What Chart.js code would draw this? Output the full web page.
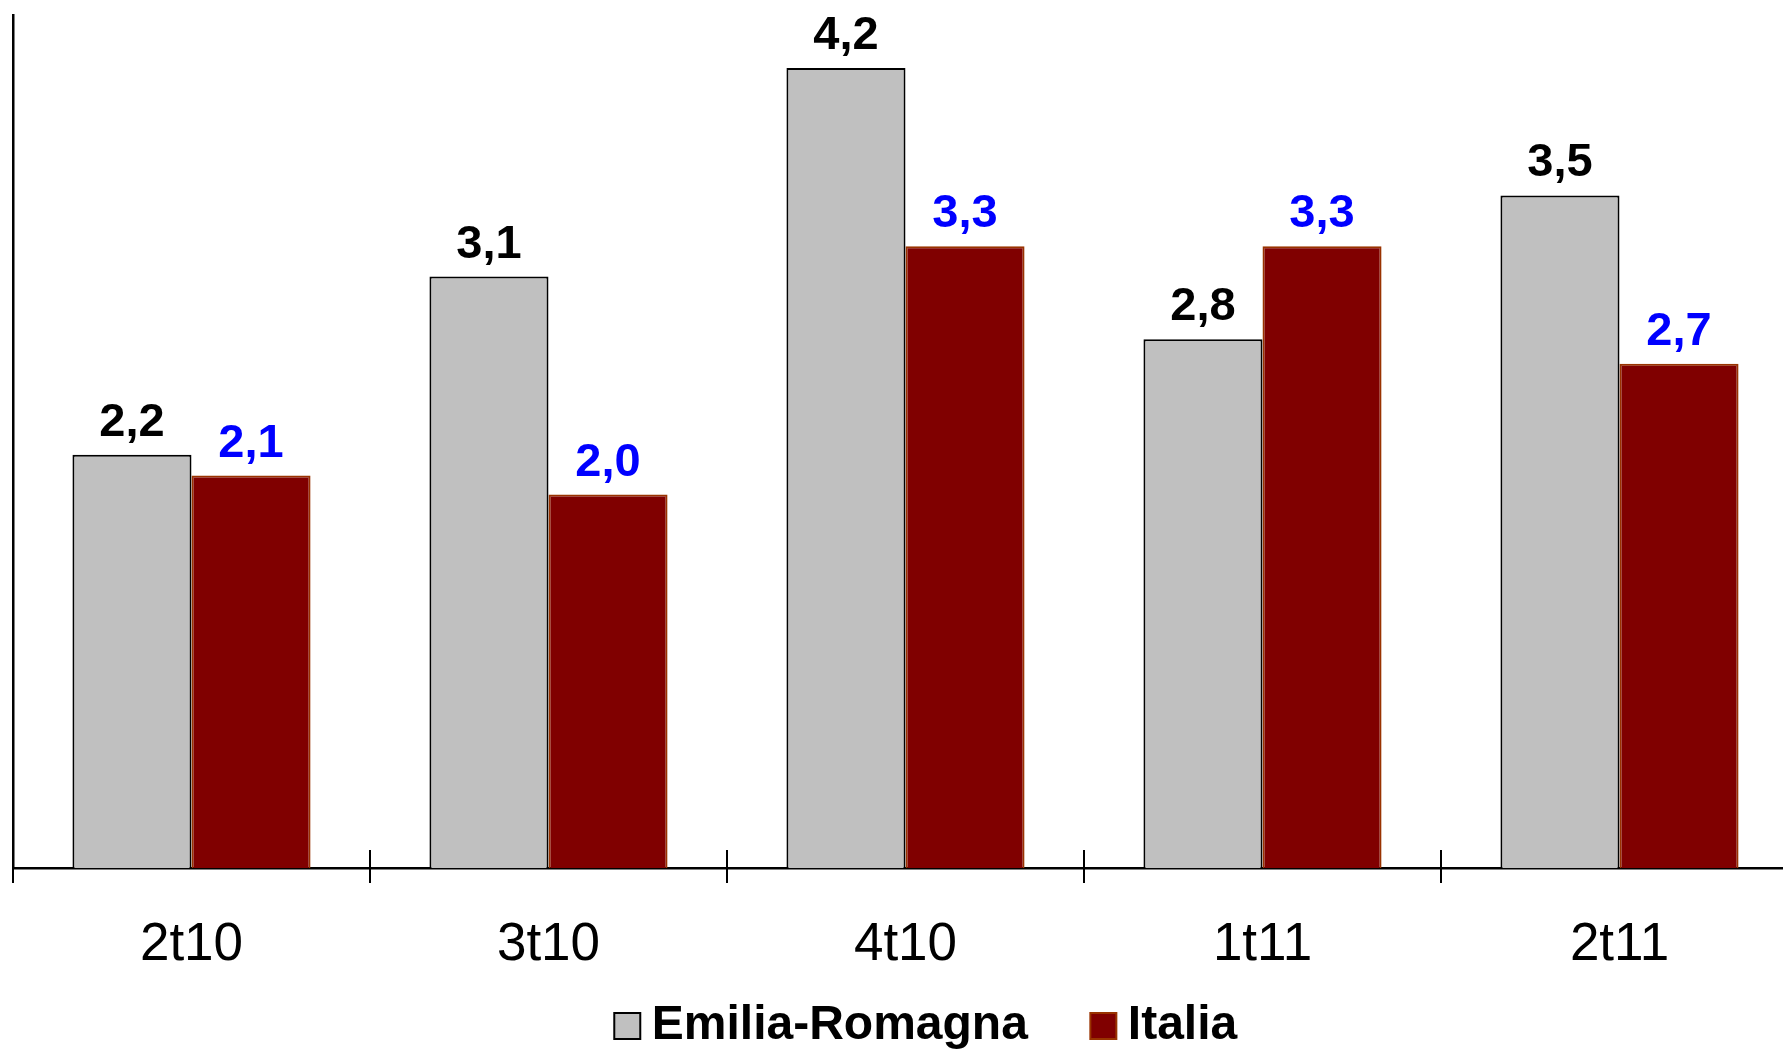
<!DOCTYPE html>
<html>
<head>
<meta charset="utf-8">
<title>Emilia-Romagna / Italia</title>
<script src="https://cdn.jsdelivr.net/npm/chart.js@4/dist/chart.umd.min.js"></script>
<style>
    html, body { margin: 0; padding: 0; background: #fff; overflow: hidden; }
    #wrap { position: relative; width: 1864px; height: 1060px; }
</style>
</head>
<body>
<div id="wrap"><canvas id="quarterChart"></canvas></div>
<script>
const quarters = ['2t10', '3t10', '4t10', '1t11', '2t11'];
const emiliaRomagna = [2.18, 3.12, 4.22, 2.79, 3.548];
const italia = [2.07, 1.97, 3.28, 3.28, 2.66];
const seriesNames = ['Emilia-Romagna', 'Italia'];
const labelColors = ['#000000', '#0000FF'];

Chart.defaults.font.family = '"Liberation Sans", Arial, sans-serif';
Chart.defaults.color = '#000';

function formatValue(v) {
    return v.toFixed(1).replace('.', ',');
}

// numbers above each bar
const valueLabels = {
    id: 'valueLabels',
    afterDatasetsDraw(chart) {
        const ctx = chart.ctx;
        ctx.save();
        ctx.font = 'bold 47px "Liberation Sans", Arial, sans-serif';
        ctx.textAlign = 'center';
        ctx.textBaseline = 'alphabetic';
        chart.data.datasets.forEach((ds, i) => {
            ctx.fillStyle = labelColors[i];
            chart.getDatasetMeta(i).data.forEach((bar, j) => {
                ctx.fillText(formatValue(ds.data[j]), bar.x, bar.y - 19);
            });
        });
        ctx.restore();
    }
};

const ctx = document.getElementById('quarterChart').getContext('2d');
const quarterChart = new Chart(ctx, {
    type: 'bar',
    data: {
        labels: quarters,
        datasets: [{
            label: seriesNames[0],
            data: emiliaRomagna,
            backgroundColor: '#C0C0C0',
            borderColor: '#000000',
            borderWidth: 2,
            categoryPercentage: 0.667,
            barPercentage: 1.0
        }, {
            label: seriesNames[1],
            data: italia,
            backgroundColor: '#800000',
            borderColor: '#993300',
            borderWidth: 2,
            categoryPercentage: 0.667,
            barPercentage: 1.0
        }]
    },
    options: {
        responsive: true,
        maintainAspectRatio: false,
        animation: false,
        layout: { padding: { top: 15, left: 0, right: 0, bottom: 0 } },
        scales: {
            // baseline + short ticks pointing up
            x: {
                position: 'bottom',
                weight: 0,
                grid: {
                    display: true,
                    offset: true,
                    drawOnChartArea: false,
                    drawTicks: true,
                    tickLength: -18,
                    color: '#000',
                    lineWidth: 2
                },
                border: { display: true, color: '#000', width: 2.5 },
                ticks: { display: false },
                afterFit: function(scale) { scale.height = 0; }
            },
            // ticks pointing down + quarter labels
            x2: {
                type: 'category',
                position: 'bottom',
                weight: 1,
                offset: true,
                grid: {
                    display: true,
                    offset: true,
                    drawOnChartArea: false,
                    drawTicks: true,
                    tickLength: 15,
                    color: '#000',
                    lineWidth: 2
                },
                border: { display: false },
                ticks: {
                    color: '#000',
                    mirror: true,   // no label clipping, legend sits right under
                    padding: -109.3,
                    maxRotation: 0,
                    font: { size: 53 }
                },
                afterFit: function(scale) { scale.height = 59; }
            },
            y: {
                min: 0,
                max: 4.5,
                position: 'left',
                grid: { display: false },
                border: { display: true, color: '#000', width: 2.5 },
                ticks: { display: false },
                afterFit: function(scale) { scale.width = 13; }
            },
            y2: {
                position: 'right',
                grid: { display: false },
                border: { display: false },
                ticks: { display: false },
                afterFit: function(scale) { scale.width = 66; }
            }
        },
        plugins: {
            legend: {
                position: 'bottom',
                labels: {
                    usePointStyle: true,
                    pointStyle: 'rect',
                    boxWidth: 1,
                    boxHeight: 26,
                    padding: 75,
                    color: '#000',
                    font: { size: 48, weight: 'bold' }
                }
            },
            tooltip: { enabled: false }
        }
    },
    plugins: [valueLabels]
});
</script>
</body>
</html>
